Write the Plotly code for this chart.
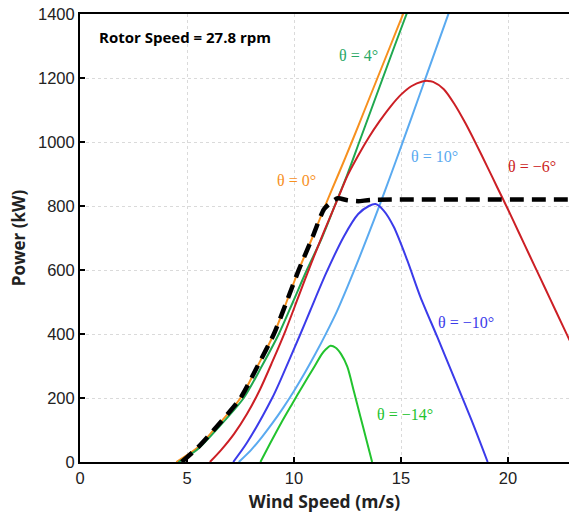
import plotly.graph_objects as go

# Power curves (kW) versus wind speed (m/s) for several pitch angles
ws_p0 = [4.5, 5.5, 6.25, 7.5, 8.3, 9.06, 9.65, 10.22, 10.85, 11.45, 12.08, 12.7, 13.3, 13.9, 14.5, 15.1, 15.4]
pw_p0 = [0, 45, 100, 200, 300, 400, 500, 600, 700, 800, 900, 1000, 1100, 1200, 1300, 1400, 1450]

ws_p4 = [4.6, 5.5, 6.5, 7.65, 8.5, 9.29, 9.95, 10.6, 11.3, 11.9, 12.5, 13.05, 13.6, 14.15, 14.7, 15.26, 15.55]
pw_p4 = [0, 40, 110, 200, 300, 400, 500, 600, 700, 800, 900, 1000, 1100, 1200, 1300, 1400, 1450]

ws_p10 = [7.42, 8.0, 8.5, 9.0, 9.5, 10.0, 10.5, 11.0, 11.5, 12.0, 12.5, 13.0, 13.5, 14.0,
          14.5, 15.0, 15.5, 16.0, 16.5, 17.0, 17.3]
pw_p10 = [0, 38, 78, 122, 170, 222, 278, 338, 402, 470, 548, 630, 715, 803,
          893, 985, 1078, 1172, 1266, 1360, 1416]

ws_m6 = [6.07, 6.6, 7.2, 7.8, 8.4, 9.0, 9.6, 10.2, 10.8, 11.4, 12.0, 12.5, 13.0, 13.5, 14.0, 14.5,
         15.0, 15.5, 16.0, 16.25, 16.5, 17.0, 17.5, 18.0, 18.5, 19.0, 19.5, 20.0, 20.5, 21.0,
         21.5, 22.0, 22.5, 23.0]
pw_m6 = [0, 38, 88, 150, 225, 315, 410, 515, 620, 720, 815, 895, 958, 1015, 1065, 1110,
         1148, 1175, 1189, 1191, 1188, 1165, 1118, 1060, 995, 927, 858, 789, 718, 647,
         576, 505, 434, 363]

ws_m10 = [7.16, 7.8, 8.98, 9.37, 10.3, 10.77, 11.5, 12.33, 13.0, 13.5, 13.81, 14.2, 14.66, 15.29,
          15.9, 16.7, 17.47, 18.3, 19.05]
pw_m10 = [0, 60, 200, 256, 400, 475, 590, 705, 775, 800, 806, 785, 735, 631,
          517, 390, 265, 130, 0]

ws_m14 = [8.43, 8.9, 9.4, 9.9, 10.4, 10.9, 11.3, 11.5, 11.7, 11.95, 12.2, 12.49, 12.8, 13.1, 13.4, 13.65]
pw_m14 = [0, 60, 122, 180, 237, 292, 337, 353, 363, 357, 337, 298, 220, 142, 65, 0]

# Regulated output
ws_reg = [4.75, 5.5, 6.25, 7.5, 8.3, 9.06, 9.65, 10.22, 10.85, 11.4, 11.75, 12.05, 12.5, 13.0, 13.6, 23.1]
pw_reg = [0, 45, 100, 200, 300, 400, 500, 600, 700, 790, 812, 824, 818, 815, 819, 820]

x_ticks = [0, 5, 10, 15, 20]
y_ticks = [0, 200, 400, 600, 800, 1000, 1200, 1400]

series = [
    (ws_p0, pw_p0, "#f7901e", "θ = 0°"),
    (ws_p4, pw_p4, "#1fa84f", "θ = 4°"),
    (ws_p10, pw_p10, "#5aaaf0", "θ = 10°"),
    (ws_m6, pw_m6, "#cc1f25", "θ = −6°"),
    (ws_m10, pw_m10, "#3b3bea", "θ = −10°"),
    (ws_m14, pw_m14, "#22c32e", "θ = −14°"),
]

fig = go.Figure()
for xs, ys, col, name in series:
    fig.add_trace(go.Scatter(x=xs, y=ys, mode="lines", name=name,
                             line=dict(color=col, width=2, shape="spline", smoothing=0.8)))

fig.add_trace(go.Scatter(x=ws_reg, y=pw_reg, mode="lines", name="Regulated",
                         line=dict(color="black", width=4.5, dash="14px,8px",
                                   shape="spline", smoothing=0.6)))

# Curve labels
labels = [
    (13.0, 1270, "θ = 4°", "#2aa866"),
    (10.1, 880, "θ = 0°", "#f7901e"),
    (16.55, 955, "θ = 10°", "#5aaaf0"),
    (21.1, 925, "θ = −6°", "#cc1f25"),
    (18.05, 435, "θ = −10°", "#3b3bea"),
    (15.2, 150, "θ = −14°", "#22c32e"),
]
for x, y, t, c in labels:
    fig.add_annotation(x=x, y=y, text=t, showarrow=False,
                       font=dict(family="Liberation Serif", size=16, color=c))

fig.add_annotation(x=0.035, y=0.949, xref="paper", yref="paper", xanchor="left", yanchor="middle",
                   text="<b>Rotor Speed = 27.8 rpm</b>", showarrow=False,
                   font=dict(family="Open Sans", size=15, color="black"))

fig.update_layout(
    width=569, height=519,
    margin=dict(l=80, r=0, t=14, b=57),
    paper_bgcolor="white", plot_bgcolor="white",
    showlegend=False,
    font=dict(family="Liberation Sans", color="#222"),
)
fig.update_xaxes(
    range=[0, 22.85], tickvals=x_ticks, ticks="inside", ticklen=5, tickwidth=1.5, tickcolor="black",
    showline=True, linecolor="black", linewidth=2, mirror=True,
    showgrid=True, gridcolor="#dadada", griddash="dot", gridwidth=1, zeroline=False,
    tickfont=dict(size=16.5, family="Liberation Sans", color="#222"),
    title=dict(text="<b>Wind Speed (m/s)</b>", font=dict(family="Open Sans", size=17.5, color="#222"), standoff=10),
)
fig.update_yaxes(
    range=[0, 1400], tickvals=y_ticks, ticks="inside", ticklen=5, tickwidth=1.5, tickcolor="black",
    showline=True, linecolor="black", linewidth=2,
    showgrid=True, gridcolor="#dadada", griddash="dot", gridwidth=1, zeroline=False,
    tickfont=dict(size=16.5, family="Liberation Sans", color="#222"),
    title=dict(text="<b>Power (kW)</b>", font=dict(family="Open Sans", size=17, color="#222"), standoff=8),
)

fig.write_html("out.html")
